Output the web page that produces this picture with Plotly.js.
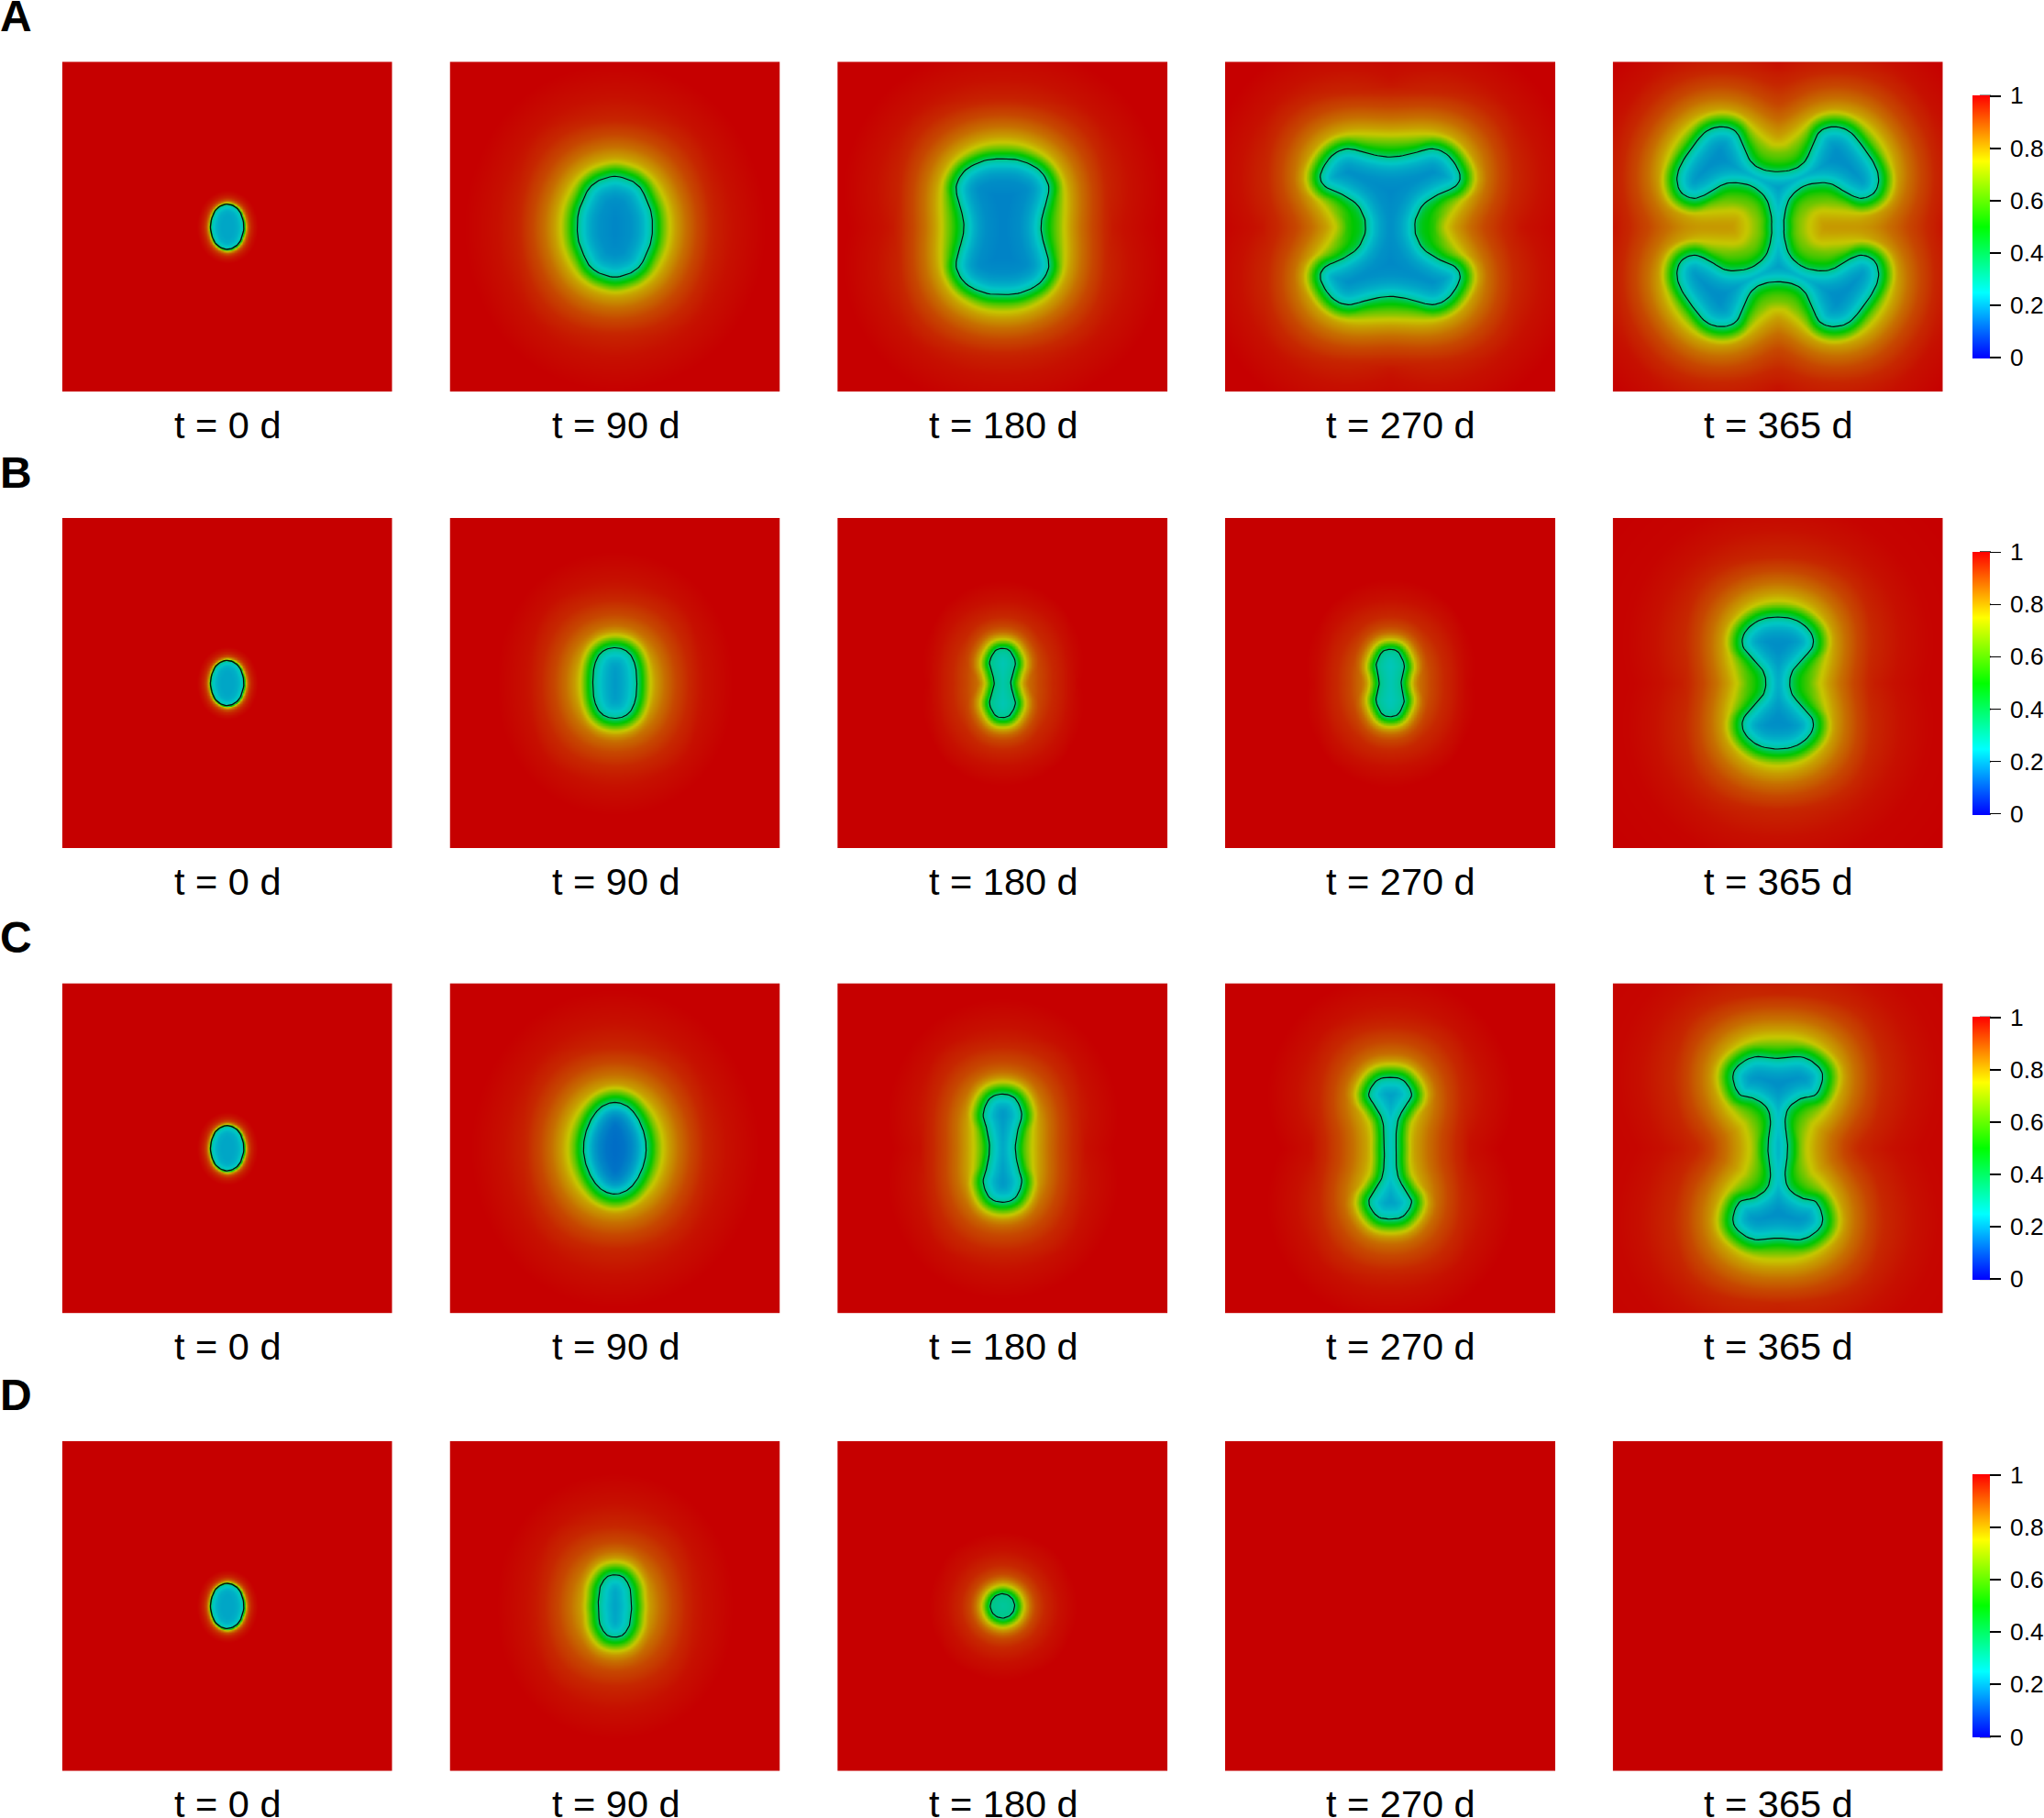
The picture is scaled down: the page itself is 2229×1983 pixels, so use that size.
<!DOCTYPE html>
<html><head><meta charset="utf-8">
<script src="https://cdn.plot.ly/plotly-3.0.1.min.js"></script>
<style>html,body{margin:0;padding:0;background:#fff}#chart{width:2229px;height:1983px}</style>
</head><body><div id="chart"></div>
<script>
// ---- Values ----
const rowLabels = ['A','B','C','D'];
const timeLabels = ['t = 0 d','t = 90 d','t = 180 d','t = 270 d','t = 365 d'];
const colorbarTicks = [0,0.2,0.4,0.6,0.8,1];
const colorbarScale = [[0,'rgb(0,0,255)'],[0.25,'rgb(0,255,255)'],[0.5,'rgb(0,255,0)'],[0.75,'rgb(255,255,0)'],[1,'rgb(255,0,0)']];
const fieldScale = [[0,'rgb(0,0,198)'],[0.25,'rgb(0,198,198)'],[0.5,'rgb(0,198,0)'],[0.75,'rgb(198,198,0)'],[1,'rgb(198,0,0)']];

// Outline of the black contour: one quadrant, from the top axis to the right axis (mirrored for the rest)
const start0  = [[0,24.7],[9,21.5],[15,14.1],[18.3,0]];
const A90  = [[0,55],[16,51],[24,46],[30,39],[38,21],[40.5,10],[41,0]];
const A180 = [[0,74],[20,72],[40,62],[50,46],[49,31],[44,14],[42,0]];
const A270 = [[0,76],[21,79],[46,85],[64,77],[76,57],[71,44],[52,35],[36,24],[28,9],[27,0]];
const A365 = [[0,60],[18,63],[30,72],[38,89],[46,104],[61,109],[78,104],[93,87],[106,67],[110,51],[105,37],[91,31],[75,37],[60,46],[46,48],[28,44],[13,31],[7,11],[7,0]];
const B90  = [[0,38.5],[7,37.5],[12.5,35],[18,29.5],[22,20],[23.6,10],[24,0]];
const B180 = [[0,37.7],[8,35],[14,23],[11.5,12],[9,0]];
const B270 = [[0,36.7],[9,33.5],[15.3,20],[13.5,10],[12,0]];
const B365 = [[0,72],[21,68],[36,55],[38,40],[26,25],[16,13],[13,0]];
const C90  = [[0,50],[8,48.5],[16,44],[23,36],[28,27],[32,16],[34,5],[34,0]];
const C180 = [[0,59],[14,54],[21,37],[17,20.7],[14,0]];
const C270 = [[0,77.3],[14.3,74],[23.4,59],[16.3,45.7],[9,32],[6.5,15.7],[6.5,0]];
const C365 = [[0,98],[25,99.7],[42,91],[49,78],[42,59],[25,54],[12,44],[8,29],[10.5,8],[10.7,0]];
const D90  = [[0,34],[6,33],[10,30.5],[14,25],[16.8,18],[17.6,9],[18.4,0]];
const D180 = [[0,13.3],[9.4,9.4],[13.3,0]];

const outlines = [
  [start0,A90,A180,A270,A365],
  [start0,B90,B180,B270,B365],
  [start0,C90,C180,C270,C365],
  [start0,D90,D180,null,null]
];
// Lowest value read inside each shape
const insideLow = [
  [0.21,0.17,0.165,0.17,0.17],
  [0.21,0.18,0.25,0.245,0.17],
  [0.21,0.13,0.17,0.18,0.17],
  [0.21,0.18,0.29,1,1]
];
// Width of the halo round each shape, relative to the widest ones (t = 0 d edge is much sharper)
const haloWidth = [
  [0.09,1,1,1,1],
  [0.09,0.85,0.6,0.62,1.1],
  [0.09,1,0.85,0.9,1.15],
  [0.09,0.9,0.55,1,1]
];
// Value read against distance (px) from the contour, outside and inside it
const outsideDist = [0,3,7,13,20,28,40,56,80,120,170];
const outsideVal  = [0.34,0.42,0.5,0.62,0.74,0.8,0.86,0.91,0.95,0.98,1];
const insideDist  = [0,2,5,10,16,24,40];
const insideFrac  = [1,0.75,0.55,0.35,0.2,0.08,0];

// ---- Layout, px on the page ----
const W=2229,H=1983,SIZE=360;
const colLeft=[67.7,490.5,913.2,1336,1758.7];
const labelCentre=[248.7,671.5,1094.2,1528,1939.7];
const rowTop=[67.3,565,1072.4,1571.7];
const fx=p=>p/W, fy=p=>1-p/H;

function table(xs,ys,x){
  if(x<=xs[0])return ys[0];
  for(let i=1;i<xs.length;i++) if(x<=xs[i]) return ys[i-1]+(ys[i]-ys[i-1])*(x-xs[i-1])/(xs[i]-xs[i-1]);
  return ys[ys.length-1];
}
function closedPath(q){
  const p=q.slice();
  for(let i=q.length-2;i>=0;i--)p.push([q[i][0],-q[i][1]]);
  for(let i=1;i<q.length;i++)p.push([-q[i][0],-q[i][1]]);
  for(let i=q.length-2;i>0;i--)p.push([-q[i][0],q[i][1]]);
  return p;
}
function dense(p,n){
  const o=[],L=p.length;
  for(let i=0;i<L;i++){
    const a=p[(i-1+L)%L],b=p[i],c=p[(i+1)%L],d=p[(i+2)%L];
    for(let k=0;k<n;k++){
      const t=k/n,t2=t*t,t3=t2*t;
      const f=j=>0.5*(2*b[j]+(c[j]-a[j])*t+(2*a[j]-5*b[j]+4*c[j]-d[j])*t2+(3*b[j]-a[j]-3*c[j]+d[j])*t3);
      o.push([f(0),f(1)]);
    }
  }
  return o;
}
function blur(m,N,r){
  let a=m;
  for(let pass=0;pass<3;pass++){
    for(let axis=0;axis<2;axis++){
      const out=new Float32Array(N*N);
      for(let l=0;l<N;l++){
        let s=0;
        const at=i=>{ if(i<0||i>=N)return 0; return axis? a[i*N+l]:a[l*N+i]; };
        for(let i=-r;i<=r;i++)s+=at(i);
        for(let i=0;i<N;i++){
          const v=s/(2*r+1);
          if(axis)out[i*N+l]=v; else out[l*N+i]=v;
          s+=at(i+r+1)-at(i-r);
        }
      }
      a=out;
    }
  }
  return a;
}
function field(q,low,width,sharp){
  const N=240,STEP=SIZE/N,xs=[];
  for(let i=0;i<N;i++)xs.push(-180+(i+0.5)*STEP);
  const z=[];
  for(let j=0;j<N;j++)z.push(new Array(N).fill(1));
  if(!q)return {x:xs,y:xs,z};
  const poly=dense(closedPath(q),4),L=poly.length;
  const sd=new Float32Array(N*N),mask=new Float32Array(N*N);
  const H2=N/2;
  for(let j=H2;j<N;j++)for(let i=H2;i<N;i++){
    const X=xs[i],Y=xs[j];let best=1e12,inside=false;
    for(let k=0;k<L;k++){
      const A=poly[k],B=poly[(k+1)%L];
      const dx=B[0]-A[0],dy=B[1]-A[1],len=dx*dx+dy*dy||1e-9;
      let t=((X-A[0])*dx+(Y-A[1])*dy)/len;t=t<0?0:t>1?1:t;
      const ex=X-A[0]-t*dx,ey=Y-A[1]-t*dy,d2=ex*ex+ey*ey;
      if(d2<best)best=d2;
      if((A[1]>Y)!==(B[1]>Y)&&X<A[0]+(Y-A[1])/dy*dx)inside=!inside;
    }
    const d=Math.sqrt(best)*(inside?-1:1),m=inside?1:0;
    for(const jj of [j,N-1-j])for(const ii of [i,N-1-i]){sd[jj*N+ii]=d;mask[jj*N+ii]=m;}
  }
  const SIG=28;
  const v=sharp?null:blur(mask,N,18);
  for(let j=0;j<N;j++)for(let i=0;i<N;i++){
    const d=sd[j*N+i];let u;
    if(d<0){
      const depth=sharp?-d/0.3:-d;
      u=low+(0.34-low)*table(insideDist,insideFrac,depth);
    }else{
      let df=d;
      if(!sharp){
        const vv=Math.max(v[j*N+i],1e-5);
        const eff=Math.min(vv>=0.5?0:SIG/1.7*Math.log(1/vv-1),1.5*d);
        const a=Math.min(1,d/20)*0.75;
        df=(1-a)*d+a*eff;
      }
      u=table(outsideDist,outsideVal,df/width);
    }
    z[j][i]=u;
  }
  return {x:xs,y:xs,z};
}

const traces=[],layout={
  width:W,height:H,margin:{l:0,r:0,t:0,b:0},paper_bgcolor:'#fff',plot_bgcolor:'#fff',
  font:{family:'"Liberation Sans",Arial,sans-serif',color:'#000'},showlegend:false,
  annotations:[],shapes:[]
};
const font='"Liberation Sans",Arial,sans-serif';
let n=0;
rowTop.forEach((top,r)=>{
  colLeft.forEach((left,c)=>{
    n++;
    const xn='xaxis'+(n>1?n:''),yn='yaxis'+(n>1?n:''),xr='x'+(n>1?n:''),yr='y'+(n>1?n:'');
    layout[xn]={domain:[fx(left),fx(left+SIZE)],range:[-180,180],anchor:yr,showgrid:false,zeroline:false,showline:false,ticks:'',showticklabels:false,fixedrange:true};
    layout[yn]={domain:[fy(top+SIZE),fy(top)],range:[-180,180],anchor:xr,showgrid:false,zeroline:false,showline:false,ticks:'',showticklabels:false,fixedrange:true};
    layout.annotations.push({xref:'paper',yref:'paper',x:fx(labelCentre[c]),y:fy(top+SIZE+36),xanchor:'center',yanchor:'middle',text:timeLabels[c],showarrow:false,
      font:{size:41.5,family:font,color:'#000'},borderpad:0,borderwidth:0});
    const q=outlines[r][c],f=field(q,insideLow[r][c],haloWidth[r][c],c===0);
    traces.push({type:'heatmap',x:f.x,y:f.y,z:f.z,xaxis:xr,yaxis:yr,zmin:0,zmax:1,colorscale:fieldScale,showscale:false,zsmooth:'best',hoverinfo:'skip'});
    if(q){
      const p=dense(closedPath(q),6);p.push(p[0]);
      traces.push({type:'scatter',mode:'lines',x:p.map(a=>a[0]),y:p.map(a=>a[1]),xaxis:xr,yaxis:yr,
        line:{color:'#0a0a0a',width:c===0?1.3:1.15},hoverinfo:'skip'});
    }
  });
  // colour bar of the row
  const mid=top+180,first=r*5+1,xr='x'+(first>1?first:''),yr='y'+(first>1?first:'');
  const zlo=-0.003,zhi=1.003,barTop=mid-143.7,barLen=287.4;
  traces.push({type:'heatmap',x:[-1000,-999],y:[-1000,-999],z:[[0,1],[0,1]],xaxis:xr,yaxis:yr,zmin:zlo,zmax:zhi,zauto:false,colorscale:colorbarScale,hoverinfo:'skip',
    colorbar:{x:fx(2150.7),xanchor:'left',xref:'paper',y:fy(mid),yanchor:'middle',yref:'paper',len:barLen,lenmode:'pixels',thickness:19.3,thicknessmode:'pixels',xpad:0,ypad:0,
      outlinewidth:0,borderwidth:0,tickmode:'array',tickvals:colorbarTicks,showticklabels:false,ticks:'outside',ticklen:12,tickwidth:1.7,tickcolor:'#000'}});
  colorbarTicks.forEach(t=>{
    const py=barTop+barLen*(zhi-t)/(zhi-zlo);
    layout.shapes.push({type:'line',xref:'paper',yref:'paper',layer:'above',x0:fx(2159),x1:fx(2171),y0:fy(py),y1:fy(py),line:{color:'#000',width:1.7}});
    layout.annotations.push({xref:'paper',yref:'paper',x:fx(2192),y:fy(py),xanchor:'left',yanchor:'middle',text:String(t),showarrow:false,font:{size:26.3,family:font,color:'#000'},borderpad:0,borderwidth:0});
  });
  layout.annotations.push({xref:'paper',yref:'paper',x:0,y:fy(top-23.5),xanchor:'left',yanchor:'bottom',text:'<b>'+rowLabels[r]+'</b>',showarrow:false,font:{size:48,family:font,color:'#000'},borderpad:0,borderwidth:0});
});
Plotly.newPlot('chart',traces,layout,{staticPlot:true,displayModeBar:false});
</script></body></html>
